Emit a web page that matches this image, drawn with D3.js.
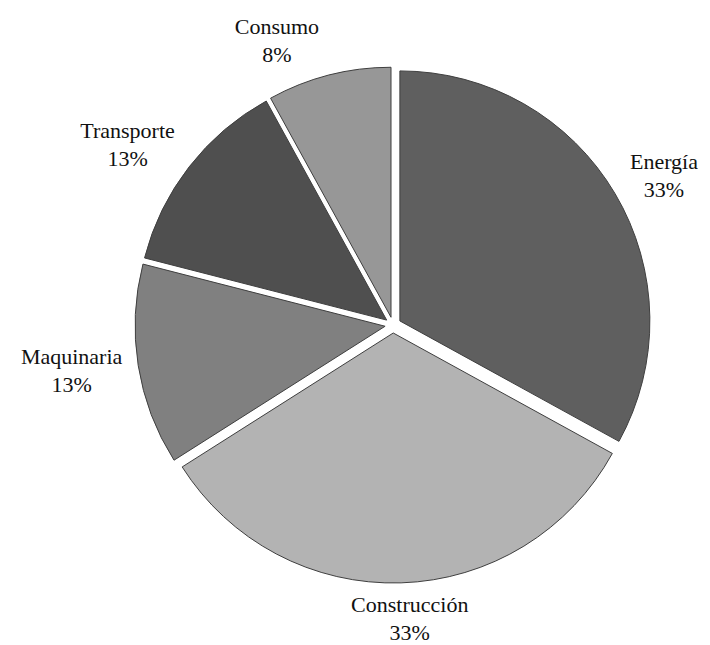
<!DOCTYPE html>
<html>
<head>
<meta charset="utf-8">
<script src="https://cdn.jsdelivr.net/npm/d3@7"></script>
<style>
  html, body { margin: 0; padding: 0; background: #ffffff; }
  svg text { font-family: "Liberation Serif", serif; font-size: 22px; fill: #111111; }
</style>
</head>
<body>
<svg id="chart" width="710" height="645"></svg>
<script>
// Sector shares (%)
const categories = ["Energía", "Construcción", "Maquinaria", "Transporte", "Consumo"];
const shares = [33, 33, 13, 13, 8];
const fills = ["#5f5f5f", "#b3b3b3", "#808080", "#4f4f4f", "#979797"];

const width = 710, height = 645;
const cx = 393, cy = 325;
const radius = 250;
const explode = 8;      // every slice pulled out from the centre
const labelGap = 8;     // distance between arc and label box

const svg = d3.select("#chart");
const g = svg.append("g").attr("transform", `translate(${cx},${cy})`);

const rows = categories.map((c, i) => ({ name: c, value: shares[i], fill: fills[i] }));

const pie = d3.pie().value(d => d.value).sort(null);
const arc = d3.arc().innerRadius(0).outerRadius(radius);
const arcs = pie(rows);

const mid = a => (a.startAngle + a.endAngle) / 2;

g.selectAll("path.slice")
  .data(arcs)
  .join("path")
  .attr("class", "slice")
  .attr("transform", a => {
    const m = mid(a);
    return `translate(${Math.sin(m) * explode},${-Math.cos(m) * explode})`;
  })
  .attr("d", arc)
  .attr("fill", a => a.data.fill)
  .attr("stroke", "#3f3f3f")
  .attr("stroke-width", 1)
  .attr("stroke-linejoin", "miter");

// Labels: name on the first line, percentage below, placed just outside each slice
const lineH = 28;
const labels = g.selectAll("text.lbl")
  .data(arcs)
  .join("text")
  .attr("class", "lbl")
  .attr("text-anchor", "middle");

labels.append("tspan").text(a => a.data.name);
labels.append("tspan").text(a => d3.format(".0f")(a.data.value) + "%");

labels.each(function(a) {
  const t = d3.select(this);
  const spans = t.selectAll("tspan").nodes();
  const w = Math.max(...spans.map(s => s.getComputedTextLength())) + 16;
  const h = lineH * 2;
  const m = mid(a);
  const s = Math.sin(m), c = -Math.cos(m);
  const R = radius + explode + labelGap;
  const ax = s * R, ay = c * R;
  const shiftX = Math.max(-1, Math.min(1, s * 4)) * w / 2;
  const shiftY = c * h / 2;
  const x = ax + shiftX, y = ay + shiftY;
  d3.select(spans[0]).attr("x", x).attr("y", y - lineH / 2).attr("dy", "0.33em");
  d3.select(spans[1]).attr("x", x).attr("y", y + lineH / 2).attr("dy", "0.33em");
});
</script>
</body>
</html>
